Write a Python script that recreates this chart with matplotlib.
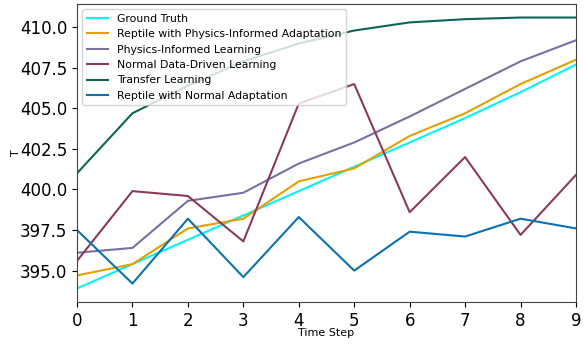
import numpy as np
import matplotlib.pyplot as plt

time_steps = np.arange(10)

ground_truth = [393.9, 395.4, 396.9, 398.4, 399.9, 401.4, 402.9, 404.4, 406.0, 407.7]
reptile_physics = [394.7, 395.4, 397.6, 398.2, 400.5, 401.3, 403.3, 404.7, 406.5, 408.0]
physics_informed = [396.1, 396.4, 399.3, 399.8, 401.6, 402.9, 404.5, 406.2, 407.9, 409.2]
normal_data_driven = [395.6, 399.9, 399.6, 396.8, 405.3, 406.5, 398.6, 402.0, 397.2, 400.9]
transfer_learning = [401.0, 404.7, 406.4, 407.9, 409.0, 409.8, 410.3, 410.5, 410.6, 410.6]
reptile_normal = [397.5, 394.2, 398.2, 394.6, 398.3, 395.0, 397.4, 397.1, 398.2, 397.6]

series = [
    ("Ground Truth", ground_truth, "#00f5f5"),
    ("Reptile with Physics-Informed Adaptation", reptile_physics, "#e69f00"),
    ("Physics-Informed Learning", physics_informed, "#7a6fa3"),
    ("Normal Data-Driven Learning", normal_data_driven, "#8c3a5c"),
    ("Transfer Learning", transfer_learning, "#0e6655"),
    ("Reptile with Normal Adaptation", reptile_normal, "#0a72b0"),
]

fig = plt.figure(figsize=(5.84, 3.44), dpi=100)
ax = fig.add_axes([77 / 584, 42 / 344, 499 / 584, 298 / 344])

for label, values, color in series:
    ax.plot(time_steps, values, color=color, linewidth=1.5, label=label)

ax.set_xlim(0, 9)
ax.set_xticks(time_steps)
ax.tick_params(axis="both", labelsize=12)
ax.set_xlabel("Time Step", fontsize=8, labelpad=-1.5)
ax.set_ylabel("T", fontsize=8, labelpad=-1)
ax.legend(loc="upper left", fontsize=7.8, handlelength=2.0)

for spine in ax.spines.values():
    spine.set_color("#444444")

plt.savefig("out.png", dpi=100)
